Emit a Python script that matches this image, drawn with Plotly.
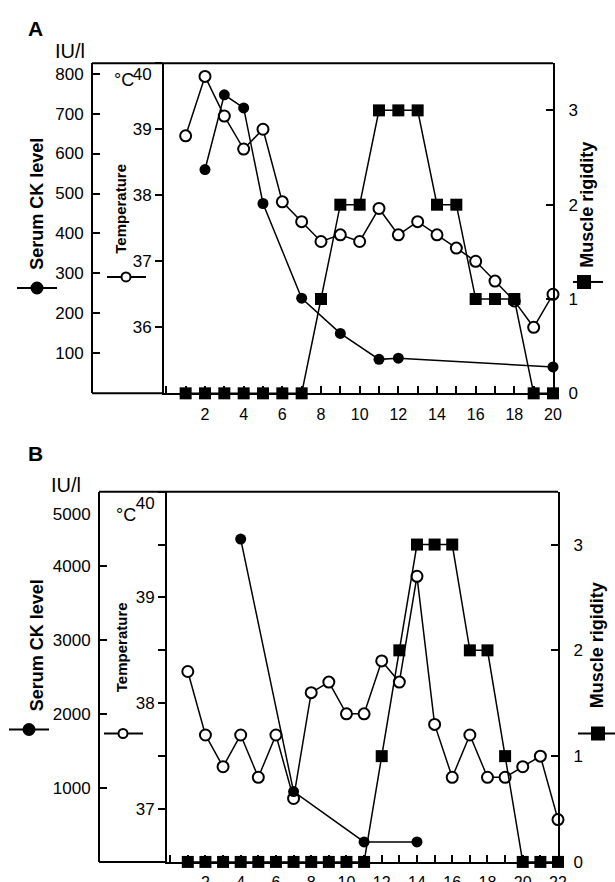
import plotly.graph_objects as go

# layout is measured on a 615x882 grid; the figure itself is drawn a bit
# larger because the photographed page gets shrunk to fit the window
REF_W, REF_H = 615, 882
W, H = 624, 895

# ---- Panel A data ----
days_a = list(range(1, 21))
temp_a = [38.9, 39.8, 39.2, 38.7, 39.0, 37.9, 37.6, 37.3, 37.4, 37.3,
          37.8, 37.4, 37.6, 37.4, 37.2, 37.0, 36.7, 36.4, 36.0, 36.5]
ck_days_a = [2, 3, 4, 5, 7, 9, 11, 12, 20]
ck_a = [560, 747, 714, 475, 238, 150, 85, 88, 66]
rigid_a = [0, 0, 0, 0, 0, 0, 0, 1, 2, 2, 3, 3, 3, 2, 2, 1, 1, 1, 0, 0]

# ---- Panel B data ----
days_b = list(range(1, 23))
temp_b = [38.3, 37.7, 37.4, 37.7, 37.3, 37.7, 37.1, 38.1, 38.2, 37.9, 37.9,
          38.4, 38.2, 39.2, 37.8, 37.3, 37.7, 37.3, 37.3, 37.4, 37.5, 36.9]
ck_days_b = [4, 7, 11, 14]
ck_b = [4360, 950, 270, 270]
rigid_b = [0, 0, 0, 0, 0, 0, 0, 0, 0, 0, 0,
           1, 2, 3, 3, 3, 2, 2, 1, 0, 0, 0]

# ---- tick labels ----
x_ticks_a = [2, 4, 6, 8, 10, 12, 14, 16, 18, 20]
x_ticks_b = [2, 4, 6, 8, 10, 12, 14, 16, 18, 20, 22]
ck_ticks_a = [0, 100, 200, 300, 400, 500, 600, 700, 800]
ck_text_a = ["", "100", "200", "300", "400", "500", "600", "700", "800"]
ck_ticks_b = [0, 1000, 2000, 3000, 4000, 5000]
ck_text_b = ["", "1000", "2000", "3000", "4000", "<br><br>5000"]
temp_ticks_a = [36, 37, 38, 39, 40]
temp_text_a = ["36", "37", "38", "39", "<br>40"]
temp_ticks_b = [37, 38, 39, 40]
temp_text_b = ["37", "38", "39", "<br>40"]
rig_ticks = [0, 1, 2, 3]

FONT = "Liberation Sans, Arial, sans-serif"


def fx(p):
    return p / REF_W


def fy(p):
    return 1 - p / REF_H


fig = go.Figure()


def add_panel(days, temp, ck_days, ck, rigid, xa, ytemp, yck, yrig):
    fig.add_trace(go.Scatter(
        x=days, y=rigid, xaxis=xa, yaxis=yrig, mode="lines+markers",
        line=dict(color="black", width=1.5),
        marker=dict(symbol="square", size=12, color="black"),
        cliponaxis=False))
    fig.add_trace(go.Scatter(
        x=ck_days, y=ck, xaxis=xa, yaxis=yck, mode="lines+markers",
        line=dict(color="black", width=1.5),
        marker=dict(symbol="circle", size=11, color="black"),
        cliponaxis=False))
    fig.add_trace(go.Scatter(
        x=days, y=temp, xaxis=xa, yaxis=ytemp, mode="lines+markers",
        line=dict(color="black", width=1.5),
        marker=dict(symbol="circle", size=11, color="white",
                    line=dict(color="black", width=2)),
        cliponaxis=False))


add_panel(days_a, temp_a, ck_days_a, ck_a, rigid_a, "x", "y", "y2", "y3")
add_panel(days_b, temp_b, ck_days_b, ck_b, rigid_b, "x2", "y4", "y5", "y6")

base = dict(showline=True, linecolor="black", linewidth=2, showgrid=False,
            zeroline=False, ticklen=7, tickwidth=2, tickcolor="black",
            tickfont=dict(size=17, color="black", family=FONT))


def xax(dom, rng, ticks, anchor):
    d = dict(base)
    d.update(domain=dom, range=rng, anchor=anchor, tickmode="array",
             tickvals=ticks, ticks="inside", ticklabelstandoff=5,
             tickfont=dict(size=16, color="black", family=FONT),
             minor=dict(dtick=1, tick0=0, ticks="inside", ticklen=7,
                        tickwidth=1.5, tickcolor="black"))
    return d


def yax(**kw):
    d = dict(base)
    d.update(kw)
    return d


# panel geometry (pixels on the 615x882 grid)
A_left, A_tl, A_right, A_top, A_bot = 92, 164, 553, 63, 392
B_left, B_tl, B_right, B_top, B_bot = 99, 167, 558, 490, 859

fig.update_layout(
    width=W, height=H, margin=dict(l=0, r=0, t=0, b=0),
    plot_bgcolor="white", paper_bgcolor="white", showlegend=False,
    font=dict(family=FONT, color="black"),
    xaxis=xax([fx(A_tl), fx(A_right)], [-0.12, 20], x_ticks_a, "y"),
    yaxis=yax(domain=[fy(A_bot), fy(A_top)], anchor="x", range=[35, 40],
              tickmode="array", tickvals=temp_ticks_a, ticktext=temp_text_a,
              ticks="outside"),
    yaxis2=yax(overlaying="y", anchor="free", position=fx(A_left),
               side="left", range=[0, 826], tickmode="array",
               tickvals=ck_ticks_a, ticktext=ck_text_a, ticks="inside",
               ticklabelstandoff=4),
    yaxis3=yax(overlaying="y", anchor="x", side="right", range=[0, 3.5],
               tickmode="array", tickvals=rig_ticks, ticks="inside",
               ticklabelstandoff=10),
    xaxis2=xax([fx(B_tl), fx(B_right)], [-0.18, 22], x_ticks_b, "y4"),
    yaxis4=yax(domain=[fy(B_bot), fy(B_top)], anchor="x2",
               range=[36.5, 40], tickmode="array", tickvals=temp_ticks_b,
               ticktext=temp_text_b, ticks="outside",
               minor=dict(dtick=0.5, tick0=0, ticks="outside", ticklen=7,
                          tickwidth=1.5, tickcolor="black")),
    yaxis5=yax(overlaying="y4", anchor="free", position=fx(B_left),
               side="left", range=[0, 5000], tickmode="array",
               tickvals=ck_ticks_b, ticktext=ck_text_b, ticks="inside",
               ticklabelstandoff=4),
    yaxis6=yax(overlaying="y4", anchor="x2", side="right", range=[0, 3.5],
               tickmode="array", tickvals=rig_ticks, ticks="inside",
               ticklabelstandoff=10),
)

shapes = []
for left, tl, right, top, bot in [(A_left, A_tl, A_right, A_top, A_bot),
                                  (B_left, B_tl, B_right, B_top, B_bot)]:
    shapes.append(dict(type="line", xref="paper", yref="paper",
                       x0=fx(left), x1=fx(right), y0=fy(top), y1=fy(top),
                       line=dict(color="black", width=2)))
    shapes.append(dict(type="line", xref="paper", yref="paper",
                       x0=fx(left), x1=fx(tl), y0=fy(bot), y1=fy(bot),
                       line=dict(color="black", width=2)))


def glyph(x0, x1, y, cx, kind):
    shapes.append(dict(type="line", xref="paper", yref="paper",
                       x0=fx(x0), x1=fx(x1), y0=fy(y), y1=fy(y),
                       line=dict(color="black", width=2)))
    if kind == "dot":
        r, fill, stype = 5.5, "black", "circle"
    elif kind == "ring":
        r, fill, stype = 4.5, "white", "circle"
    else:
        r, fill, stype = 6, "black", "rect"
    shapes.append(dict(type=stype, xref="paper", yref="paper",
                       xsizemode="pixel", ysizemode="pixel",
                       xanchor=fx(cx), yanchor=fy(y),
                       x0=-r, x1=r, y0=-r, y1=r, fillcolor=fill,
                       line=dict(color="black", width=2)))


glyph(17, 57, 287, 37, "dot")
glyph(107, 146, 276, 126, "ring")
glyph(573, 603, 281, 584, "square")
glyph(9, 49, 727, 29, "dot")
glyph(104, 143, 731, 123, "ring")
glyph(578, 615, 731, 598, "square")
fig.update_layout(shapes=shapes)


def note(text, x, y, size, bold=False, angle=0):
    fig.add_annotation(text="<b>%s</b>" % text if bold else text,
                       xref="paper", yref="paper", x=fx(x), y=fy(y),
                       showarrow=False, textangle=angle,
                       xanchor="center", yanchor="middle",
                       font=dict(size=size, color="black", family=FONT))


note("A", 35, 28, 21, bold=True)
note("IU/l", 70, 51, 20)
note("°C", 124, 80, 18)
note("Serum CK level", 37, 203, 18, bold=True, angle=-90)
note("Temperature", 121, 208, 15, bold=True, angle=-90)
note("Muscle rigidity", 587, 204, 18, bold=True, angle=-90)

note("B", 35, 452, 21, bold=True)
note("IU/l", 66, 483, 20)
note("°C", 126, 513, 18)
note("Serum CK level", 37, 643, 18, bold=True, angle=-90)
note("Temperature", 121, 645, 15, bold=True, angle=-90)
note("Muscle rigidity", 597, 643, 18, bold=True, angle=-90)

# drop the default body margin so the figure starts at the window corner
fig.write_html("out.html", config={"displayModeBar": False},
               post_script="document.body.style.margin='0';")
